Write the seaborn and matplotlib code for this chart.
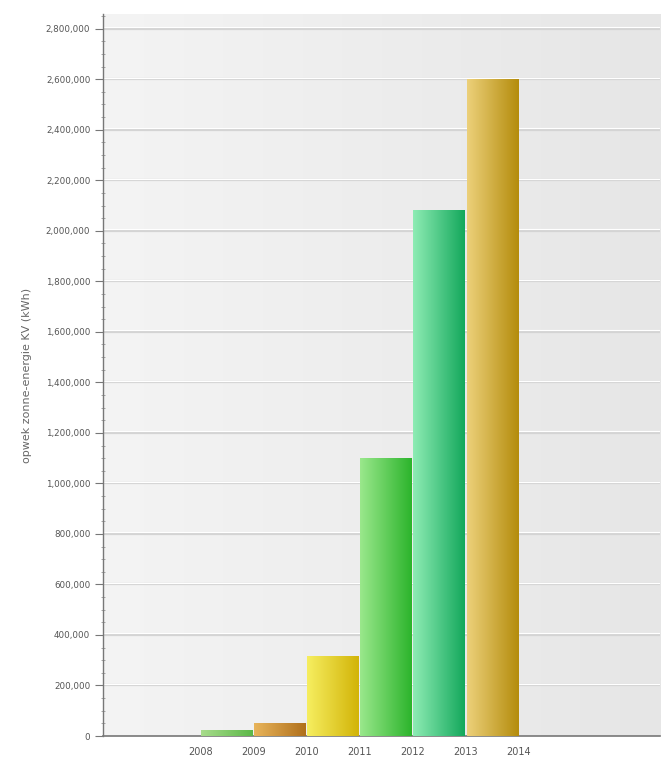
import numpy as np
import pandas as pd
import matplotlib
matplotlib.use("Agg")
import matplotlib.pyplot as plt
import seaborn as sns
from matplotlib.colors import LinearSegmentedColormap
from matplotlib.ticker import MultipleLocator, FuncFormatter

# data
periods = ["2008-2009", "2009-2010", "2010-2011", "2011-2012", "2012-2013", "2013-2014"]
values = [22000, 51000, 316000, 1100000, 2082000, 2600000]
tick_labels = ["2008", "2009", "2010", "2011", "2012", "2013", "2014"]
light_colors = ["#a8dc8c", "#e8b45a", "#f6ee60", "#9ae88c", "#8eecb4", "#ecd07a"]
dark_colors = ["#5cb848", "#b0701c", "#d2b408", "#2cb42c", "#14a85c", "#b48c0c"]

sns.set_theme(style="white")
plt.rcParams['font.family'] = ['DejaVu Sans']

fig = plt.figure(figsize=(6.68, 7.58), dpi=100)
ax = fig.add_axes([0.154, 0.0290, 0.834, 0.9525])

df = pd.DataFrame({"period": periods, "value": values})
sns.barplot(data=df, x="period", y="value", ax=ax, width=0.98,
            palette=dark_colors, hue="period", legend=False, saturation=1,
            edgecolor="none", zorder=3)

ax.set_xlim(-2.35, 8.16)
ax.set_ylim(0, 2858000)

# background gradient
bg = LinearSegmentedColormap.from_list("bg", ["#f4f4f4", "#e6e6e6"])
ax.imshow(np.linspace(0, 1, 256).reshape(1, -1), cmap=bg, aspect="auto",
          extent=[-2.35, 8.16, 0, 2858000], zorder=0)

# gradient fill of bars
for patch, lc, dc in zip(ax.patches, light_colors, dark_colors):
    x0, y0 = patch.get_x(), patch.get_y()
    w, h = patch.get_width(), patch.get_height()
    cmap = LinearSegmentedColormap.from_list("g", [lc, dc])
    im = ax.imshow(np.linspace(0, 1, 128).reshape(1, -1), cmap=cmap, aspect="auto",
                   extent=[x0, x0 + w, y0, y0 + h], zorder=4)
    im.set_clip_path(patch)

ax.set_xlim(-2.35, 8.16)
ax.set_ylim(0, 2858000)

# grid
ax.yaxis.set_major_locator(MultipleLocator(200000))
ax.yaxis.set_minor_locator(MultipleLocator(50000))
for yv in np.arange(200000, 2858000, 200000):
    ax.axhline(yv, color="#d4d4d4", lw=1.6, zorder=1)
    ax.axhline(yv + 6000, color="#ffffff", lw=0.8, zorder=1)

ax.set_xticks(np.arange(-0.5, 6.0, 1.0))
ax.set_xticklabels(tick_labels, fontsize=7, color="#555555")
ax.yaxis.set_major_formatter(FuncFormatter(lambda v, p: f"{int(v):,}"))
ax.tick_params(axis="y", which="major", left=True, length=6, width=0.8,
               color="#777777", labelsize=6.3, labelcolor="#555555", pad=3)
ax.tick_params(axis="y", which="minor", left=True, length=3, width=0.6,
               color="#999999", direction="inout")
ax.tick_params(axis="x", bottom=False, pad=2)

for s in ["top", "right"]:
    ax.spines[s].set_visible(False)
ax.spines["left"].set_color("#777777")
ax.spines["left"].set_linewidth(1.0)
ax.spines["bottom"].set_color("#777777")
ax.spines["bottom"].set_linewidth(1.2)
ax.set_xlabel("")
ax.set_ylabel("opwek zonne-energie KV (kWh)", fontsize=8, color="#666666", labelpad=10)

fig.savefig("out.png", dpi=100)
